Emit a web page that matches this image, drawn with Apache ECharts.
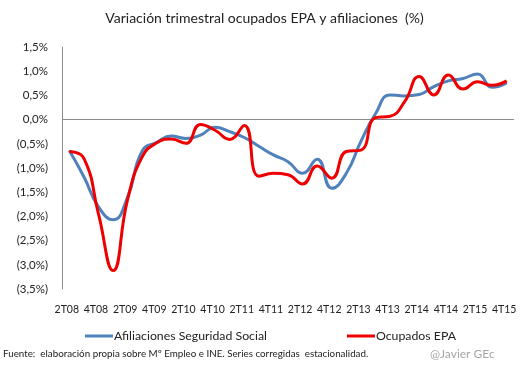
<!DOCTYPE html>
<html><head><meta charset="utf-8">
<script src="https://cdn.jsdelivr.net/npm/echarts@6/dist/echarts.min.js"></script>
<style>html,body{margin:0;padding:0;background:#fff}#c{width:529px;height:378px}</style>
</head><body><div id="c"></div>
<script>
var categories = ['2T08','3T08','4T08','1T09','2T09','3T09','4T09','1T10','2T10','3T10','4T10','1T11','2T11','3T11','4T11','1T12','2T12','3T12','4T12','1T13','2T13','3T13','4T13','1T14','2T14','3T14','4T14','1T15','2T15','3T15','4T15'];
var afiliaciones = [-0.64,-1.18,-1.80,-2.07,-1.60,-0.65,-0.47,-0.34,-0.39,-0.32,-0.16,-0.25,-0.37,-0.55,-0.73,-0.87,-1.11,-0.82,-1.42,-1.11,-0.45,0.12,0.51,0.49,0.52,0.68,0.80,0.85,0.94,0.67,0.76];
var ocupados = [-0.66,-0.80,-1.95,-3.12,-1.65,-0.77,-0.48,-0.40,-0.49,-0.10,-0.22,-0.41,-0.12,-1.17,-1.11,-1.14,-1.33,-0.96,-1.21,-0.66,-0.63,0.04,0.07,0.37,0.89,0.51,0.92,0.63,0.78,0.71,0.80];
var seriesNames = ['Afiliaciones Seguridad Social','Ocupados EPA'];
var titleText = 'Variación trimestral ocupados EPA y afiliaciones  (%)';
var sourceText = 'Fuente:  elaboración propia sobre Mº Empleo e INE. Series corregidas  estacionalidad.';
var authorText = '@Javier GEc';

var FONT = 'Lato, "Liberation Sans", sans-serif';
function fmt(v){
  var s = Math.abs(v).toFixed(1).replace('.', ',') + '%';
  return v < 0 ? '(' + s + ')' : s;
}
var splitColors = [];
for (var k = 0; k < 11; k++) splitColors.push(k === 7 ? '#8c8c8c' : 'rgba(0,0,0,0)');

var chart = echarts.init(document.getElementById('c'), null, {renderer:'canvas'});
chart.setOption({
  animation:false,
  textStyle:{fontFamily:FONT},
  title:{text:titleText,left:'center',top:6,textStyle:{fontFamily:FONT,fontSize:14,fontWeight:'normal',color:'#222'}},
  grid:{left:62,right:15,top:47,bottom:89,containLabel:false},
  legend:{data:seriesNames,left:80,top:325,itemWidth:28,itemHeight:3,itemGap:80,icon:'rect',
    textStyle:{fontFamily:FONT,fontSize:12.3,color:'#222',padding:[0,0,0,-4]}},
  xAxis:{type:'category',data:categories,boundaryGap:true,
    axisLine:{show:false},axisTick:{show:false},
    axisLabel:{interval:1,fontSize:10.5,color:'#222',margin:15,fontFamily:FONT,padding:[0,5,0,0]}},
  yAxis:{type:'value',min:-3.5,max:1.5,interval:0.5,
    axisLine:{show:true,lineStyle:{color:'#8c8c8c',width:1}},axisTick:{show:false},
    splitLine:{show:true,lineStyle:{color:splitColors,width:1}},
    axisLabel:{formatter:fmt,fontSize:11.5,color:'#222',margin:14,fontFamily:FONT}},
  series:[
    {name:seriesNames[0],type:'line',data:afiliaciones,smooth:0.5,symbol:'none',
      lineStyle:{color:'#4F81BD',width:3},itemStyle:{color:'#4F81BD'}},
    {name:seriesNames[1],type:'line',data:ocupados,smooth:0.5,symbol:'none',
      lineStyle:{color:'#EE0000',width:3},itemStyle:{color:'#EE0000'}}
  ],
  graphic:[
    {type:'text',left:3,top:349,style:{text:sourceText,font:'9.8px '+FONT,fill:'#222'}},
    {type:'text',left:430,top:348,style:{text:authorText,font:'12px '+FONT,fill:'#a6a6a6'}}
  ]
});
</script></body></html>
